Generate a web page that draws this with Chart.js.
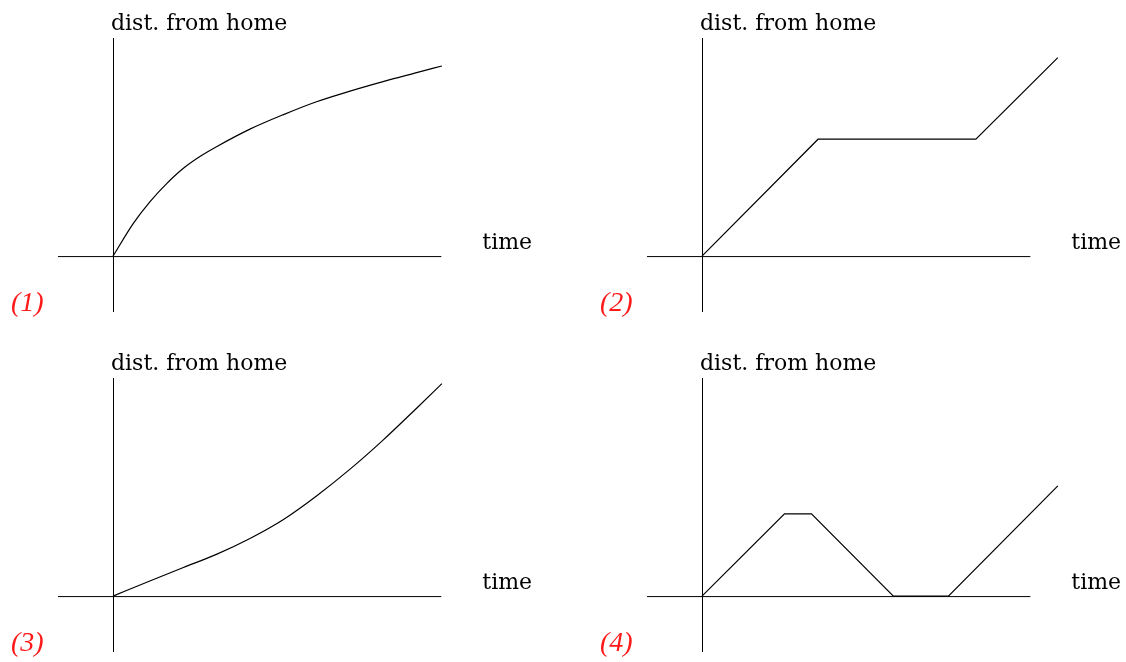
<!DOCTYPE html>
<html>
<head>
<meta charset="utf-8">
<title>dist. from home</title>
<script src="https://cdn.jsdelivr.net/npm/chart.js@4.4.1/dist/chart.umd.min.js"></script>
<style>
    html, body { margin: 0; padding: 0; background: #fff; }
    body { position: relative; width: 1126px; height: 662px; overflow: hidden; }
    canvas { position: absolute; }
    #graph-1 { left: 0; top: 0; }
    #graph-2 { left: 589px; top: 0; }
    #graph-3 { left: 0; top: 340px; }
    #graph-4 { left: 589px; top: 340px; }
</style>
</head>
<body>
<canvas id="graph-1" width="537" height="330"></canvas>
<canvas id="graph-2" width="537" height="330"></canvas>
<canvas id="graph-3" width="537" height="322"></canvas>
<canvas id="graph-4" width="537" height="322"></canvas>
<script>
// (1) slowing down
var time1 = [0, 0.37, 0.67, 0.98, 1.28, 1.58, 1.89, 2.49, 3.10, 3.70, 4.31, 4.91, 5.52, 5.98];
var dist1 = [0, 0.585, 0.97, 1.30, 1.57, 1.78, 1.96, 2.27, 2.53, 2.76, 2.95, 3.12, 3.28, 3.40];

// (2) walk, stop, walk on
var time2 = [0, 2.11, 4.98, 6.47];
var dist2 = [0, 2.09, 2.09, 3.55];

// (3) speeding up
var time3 = [0, 0.67, 1.28, 1.89, 2.49, 3.10, 3.70, 4.31, 4.91, 5.52, 5.98];
var dist3 = [0, 0.27, 0.51, 0.75, 1.03, 1.37, 1.79, 2.27, 2.79, 3.36, 3.80];

// (4) out, back home, out again
var time4 = [0, 1.5, 1.99, 3.48, 4.48, 6.47];
var dist4 = [0, 1.47, 1.47, 0, 0, 1.97];

var yLabel = "dist. from home";
var xLabel = "time";
var tags = ["(1)", "(2)", "(3)", "(4)"];

(function () {
    "use strict";

    // axes through the origin, with labels at their ends
    var homeAxes = {
        id: "homeAxes",
        beforeDatasetsDraw: function (chart, args, opts) {
            var ctx = chart.ctx;
            var x = chart.scales.x, y = chart.scales.y;
            var x0 = x.getPixelForValue(0), y0 = y.getPixelForValue(0);
            var xEnd = x.getPixelForValue(opts.xEnd);
            ctx.save();
            ctx.strokeStyle = "#000";
            ctx.lineWidth = 1;
            ctx.beginPath();
            ctx.moveTo(x.getPixelForValue(x.min), y0 + 0.5);
            ctx.lineTo(xEnd, y0 + 0.5);
            ctx.moveTo(x0 + 0.5, y.getPixelForValue(y.max));
            ctx.lineTo(x0 + 0.5, y.getPixelForValue(y.min));
            ctx.stroke();

            ctx.fillStyle = "#000";
            ctx.font = "22px 'DejaVu Serif'";
            ctx.textBaseline = "alphabetic";
            ctx.textAlign = "left";
            ctx.fillText(yLabel, x0 - 2, y.getPixelForValue(y.max) - 8);
            ctx.fillText(xLabel, xEnd + 41, y0 - 7);

            ctx.fillStyle = "#ff1a1a";
            ctx.font = "italic 28px 'Liberation Serif'";
            ctx.fillText(opts.tag, 11, y.getPixelForValue(y.min) - 1);
            ctx.restore();
        }
    };

    var panel = function (id, xs, ys, tag, curved) {
        var ctx = document.getElementById(id).getContext("2d");
        return new Chart(ctx, {
            type: "line",
            data: {
                datasets: [{
                    data: xs.map(function (t, i) { return {x: t, y: ys[i]}; }),
                    borderColor: "#000",
                    borderWidth: 1.2,
                    pointRadius: 0,
                    fill: false,
                    cubicInterpolationMode: curved ? "monotone" : "default",
                    tension: 0
                }]
            },
            options: {
                responsive: false,
                animation: false,
                events: [],
                layout: {
                    padding: {left: 58, top: 38, right: ctx.canvas.width - 470.5, bottom: ctx.canvas.height - 312}
                },
                scales: {
                    x: {type: "linear", min: -1, max: 6.5, display: false},
                    y: {type: "linear", min: -1, max: 3.9, display: false}
                },
                plugins: {
                    legend: {display: false},
                    tooltip: {enabled: false},
                    homeAxes: {xEnd: 5.97, tag: tag}
                }
            },
            plugins: [homeAxes]
        });
    };

    panel("graph-1", time1, dist1, tags[0], true);
    panel("graph-2", time2, dist2, tags[1], false);
    panel("graph-3", time3, dist3, tags[2], true);
    panel("graph-4", time4, dist4, tags[3], false);
})();
</script>
</body>
</html>
